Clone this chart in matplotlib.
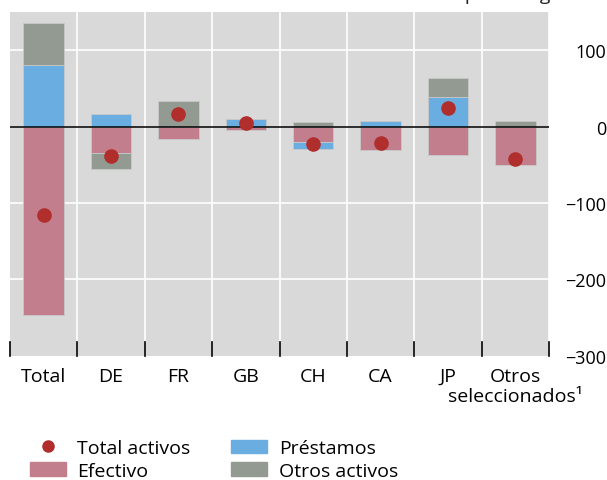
import numpy as np
import matplotlib.pyplot as plt
from matplotlib.patches import Patch
from matplotlib.lines import Line2D

plt.rcParams['font.family'] = ['Open Sans', 'DejaVu Sans']

# data
categories = ['Total', 'DE', 'FR', 'GB', 'CH', 'CA', 'JP', 'Otros\nseleccionados\u00b9']
efectivo = [-246, -35, -16, -5, -20, -30, -37, -50]
prestamos = [81, 16, 0, 10, -9, 8, 39, 0]
otros = [55, -21, 33, 0, 6, 0, 24, 8]
total = [-115, -39, 16, 5, -23, -22, 24, -42]

c_efe = '#c27e8d'
c_pre = '#6aade1'
c_otr = '#939a92'
c_dot = '#b02e2c'

fig = plt.figure(figsize=(6.07, 4.81), dpi=100)
ax = fig.add_axes([0.0165, 0.258, 0.888, 0.715])
ax.set_facecolor('#d9d9d9')

x = np.arange(len(categories))
w = 0.6

# stack positives up and negatives down
pos_base = np.zeros(len(x))
neg_base = np.zeros(len(x))
for vals, col in [(efectivo, c_efe), (prestamos, c_pre), (otros, c_otr)]:
    v = np.array(vals, dtype=float)
    bottoms = np.where(v >= 0, pos_base, neg_base)
    ax.bar(x, v, w, bottom=bottoms, color=col, edgecolor='#c8c8c8', linewidth=0.6, zorder=3)
    pos_base += np.where(v > 0, v, 0)
    neg_base += np.where(v < 0, v, 0)

ax.scatter(x, total, s=90, color=c_dot, zorder=5)
ax.axhline(0, color='black', linewidth=1.1, zorder=4)

ax.set_xlim(-0.5, len(x) - 0.5)
ax.set_ylim(-300, 150)

# gridlines
bounds = np.arange(-0.5, len(x), 1)
for b in bounds[1:]:
    ax.axvline(b, color='white', linewidth=1.2, zorder=1)
for yv in [100, -100, -200]:
    ax.axhline(yv, color='white', linewidth=1.2, zorder=1)

for s in ax.spines.values():
    s.set_visible(False)

ax.yaxis.tick_right()
ax.set_yticks([100, 0, -100, -200, -300])
ax.set_yticklabels(['100', '0', '\u2212100', '\u2212200', '\u2212300'])
ax.tick_params(axis='y', length=0, labelsize=13, pad=41)
for lab in ax.get_yticklabels():
    lab.set_horizontalalignment('right')

ax.set_xticks(x)
ax.set_xticklabels(categories, fontsize=14, linespacing=1.15)
ax.tick_params(axis='x', length=0, pad=8)
for b in bounds:
    ax.plot([b, b], [-300, -282], color='black', linewidth=1.2, zorder=6, clip_on=False)

# title is cropped at the top edge in the original
fig.text(0.5, 1.0, 'Variación de los activos exteriores de los bancos por categoría',
         fontsize=14, ha='center', va='baseline', color='#222222')

handles = [
    Line2D([], [], marker='o', linestyle='none', color=c_dot, markersize=8),
    Patch(color=c_efe),
    Patch(color=c_pre),
    Patch(color=c_otr),
]
labels = ['Total activos', 'Efectivo', 'Préstamos', 'Otros activos']
fig.legend(handles, labels, ncol=2, loc='lower left', bbox_to_anchor=(0.049, 0.0),
           frameon=False, fontsize=14, handlelength=1.85, handleheight=0.7,
           columnspacing=2.1, labelspacing=0.25, handletextpad=0.6,
           borderpad=0, borderaxespad=0)

fig.savefig('out.png', dpi=100)
